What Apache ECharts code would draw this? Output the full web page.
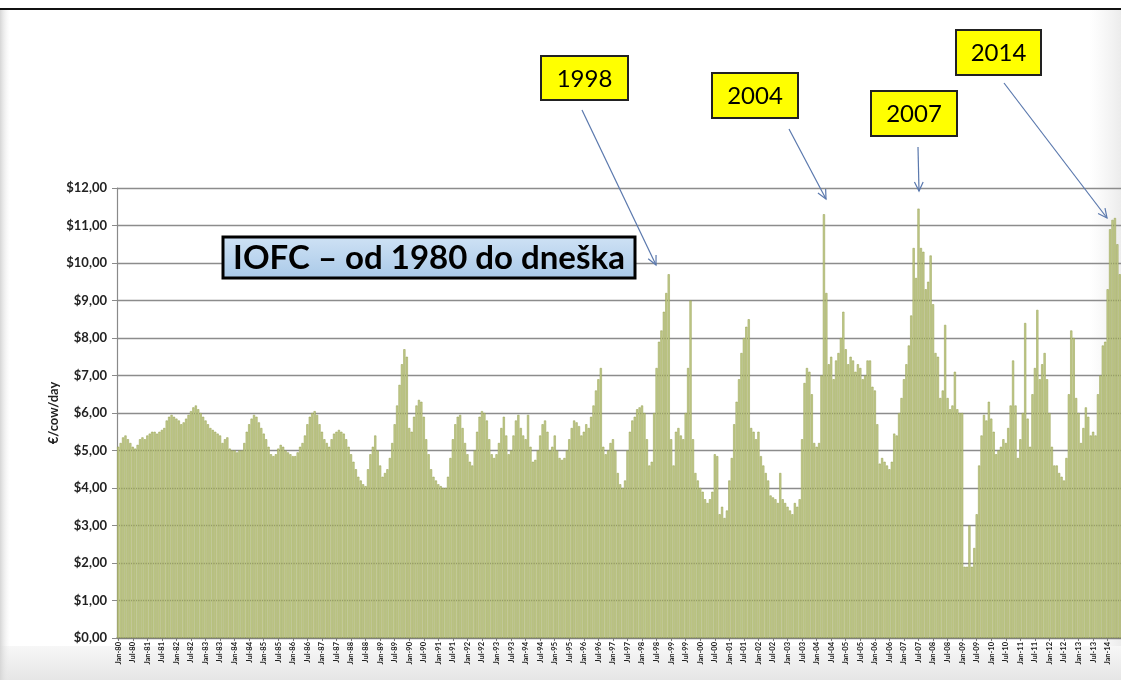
<!DOCTYPE html>
<html><head><meta charset="utf-8">
<script src="https://cdn.jsdelivr.net/npm/echarts@6/dist/echarts.min.js"></script>
<style>html,body{margin:0;padding:0;background:#fff}#c{width:1121px;height:680px}</style>
</head><body><div id="c"></div>
<script>
// monthly IOFC values (€/cow/day), Jan-80 .. Jun-14
const v1980s = [
 5.1,5.2,5.35,5.4,5.3,5.2,5.1,5.05,5.15,5.3,5.35,5.3,
 5.4,5.45,5.5,5.5,5.45,5.5,5.55,5.6,5.8,5.9,5.95,5.9,
 5.85,5.8,5.7,5.75,5.85,5.95,6.05,6.15,6.2,6.1,6.0,5.9,
 5.8,5.7,5.6,5.55,5.5,5.45,5.4,5.2,5.3,5.35,5.05,5.0,
 5.0,4.95,5.0,5.0,5.2,5.5,5.7,5.85,5.95,5.9,5.75,5.6,
 5.45,5.3,5.1,4.9,4.85,4.9,5.05,5.15,5.1,5.0,4.95,4.9,
 4.85,4.85,4.95,5.1,5.2,5.4,5.7,5.9,6.0,6.05,5.95,5.7,
 5.5,5.3,5.2,5.1,5.3,5.45,5.5,5.55,5.5,5.45,5.3,5.1,
 4.9,4.7,4.5,4.3,4.2,4.1,4.05,4.5,4.9,5.1,5.4,5.0,
 4.6,4.3,4.4,4.5,4.8,5.2,5.7,6.2,6.75,7.3,7.7,7.5
];
const v1990s = [
 5.6,5.5,5.9,6.2,6.35,6.3,5.9,5.3,4.9,4.5,4.3,4.2,
 4.1,4.05,4.0,4.0,4.3,4.8,5.3,5.7,5.9,5.95,5.6,5.2,
 4.9,4.7,4.6,5.0,5.5,5.9,6.05,6.0,5.8,5.3,4.9,4.8,
 4.9,5.2,5.6,5.9,5.4,4.9,5.0,5.4,5.8,5.95,5.6,5.4,
 5.3,5.95,5.1,4.7,4.75,5.0,5.4,5.7,5.8,5.5,5.0,5.1,
 5.4,5.0,4.8,4.75,4.8,5.0,5.3,5.6,5.8,5.75,5.65,5.4,
 5.5,5.7,5.6,5.9,6.2,6.6,6.9,7.2,5.1,4.9,5.0,5.2,
 5.3,5.0,4.4,4.1,4.0,4.2,5.0,5.5,5.8,5.9,6.1,6.15,
 6.2,6.0,5.3,4.6,4.7,6.0,7.2,7.9,8.2,8.7,9.2,9.7,
 5.3,4.6,5.5,5.6,5.4,5.3,6.0,7.2,9.0,5.3,4.4,4.2
];
const v2000s = [
 4.0,3.9,3.7,3.6,3.7,3.9,4.9,4.85,3.3,3.5,3.2,3.4,
 4.2,4.8,5.7,6.3,6.9,7.6,8.0,8.3,8.5,5.6,5.5,5.3,
 5.5,4.85,4.6,4.4,4.2,3.8,3.75,3.7,3.6,4.4,3.7,3.6,
 3.5,3.4,3.3,3.6,3.5,3.7,5.3,6.8,7.2,7.1,6.5,5.2,
 5.1,5.2,7.0,11.3,9.2,7.3,7.5,6.9,7.4,7.6,8.0,8.7,
 7.7,7.3,7.5,7.4,7.1,7.3,7.2,6.9,7.0,7.4,7.4,6.7,
 6.6,5.7,4.65,4.8,4.7,4.6,4.5,4.7,5.45,5.4,6.0,6.4,
 6.9,7.3,7.8,8.6,10.4,9.6,11.45,10.4,10.3,9.3,9.5,10.2,
 8.9,7.6,7.5,6.4,6.6,8.35,6.4,6.1,6.2,7.1,6.1,6.0,
 6.0,1.9,1.9,3.0,1.9,2.4,3.3,4.6,5.4,5.95,5.8,6.3
];
const v2010s = [
 5.85,5.5,4.9,5.0,5.1,5.3,5.2,5.6,6.2,7.4,6.2,4.8,
 5.3,6.0,8.4,5.85,5.1,6.5,7.2,8.75,6.9,7.3,7.6,6.9,
 6.0,5.1,4.6,4.6,4.4,4.3,4.2,4.8,6.5,8.2,8.0,6.4,
 6.0,5.2,5.6,6.15,5.9,5.4,5.5,5.4,6.5,7.0,7.8,7.9,
 9.3,10.9,11.15,11.2,10.5,9.7
];
const monthNames = ['Jan','Feb','Mar','Apr','May','Jun','Jul','Aug','Sep','Oct','Nov','Dec'];
const firstYear = 1980;
const values = [].concat(v1980s, v1990s, v2000s, v2010s);
const categories = values.map((_, i) =>
  monthNames[i % 12] + '-' + String((firstYear + Math.floor(i / 12)) % 100).padStart(2, '0'));

const titleText = 'IOFC – od 1980 do dneška';
const yAxisTitle = '€/cow/day';
const callouts = [
  {label:'1998', box:[541,56,87,44], from:[582,110], to:[656,265]},
  {label:'2004', box:[712,73,86,45], from:[789,129], to:[826,199]},
  {label:'2007', box:[871,91,86,45], from:[918,147], to:[919,191]},
  {label:'2014', box:[956,30,85,45], from:[1004,83], to:[1107,218]}
];

const FONT = 'Lato, "Open Sans", sans-serif';
const graphics = [
  {type:'rect', z:-100, shape:{x:0,y:0,width:1121,height:680}, style:{fill:'#ffffff'}},
  {type:'rect', z:-99, shape:{x:0,y:646,width:1121,height:34},
   style:{fill:new echarts.graphic.LinearGradient(0,0,0,1,[{offset:0,color:'#f7f7f7'},{offset:1,color:'#e6e6e6'}])}},
  {type:'rect', z:-99, shape:{x:1090,y:10,width:31,height:636},
   style:{fill:new echarts.graphic.LinearGradient(0,0,1,0,[{offset:0,color:'rgba(240,240,240,0)'},{offset:1,color:'#ececec'}])}},
  {type:'rect', z:-99, shape:{x:0,y:10,width:10,height:670},
   style:{fill:new echarts.graphic.LinearGradient(0,0,1,0,[{offset:0,color:'#d6d6d6'},{offset:1,color:'rgba(240,240,240,0)'}])}},
  {type:'rect', z:50, shape:{x:0,y:0,width:1121,height:8}, style:{fill:'#ffffff'}},
  {type:'rect', z:50, shape:{x:0,y:8,width:1121,height:2}, style:{fill:'#111'}},
  {type:'rect', z:60, shape:{x:223,y:237,width:412,height:41},
   style:{fill:new echarts.graphic.LinearGradient(0,0,0,1,[{offset:0,color:'#cfe2f5'},{offset:1,color:'#a9c9e8'}]),
          stroke:'#000', lineWidth:3}},
  {type:'text', z:61, x:429, y:258,
   style:{text:titleText, font:'bold 33px ' + FONT, fill:'#000', align:'center', verticalAlign:'middle'}}
];
callouts.forEach(c => {
  const [x,y,w,h] = c.box;
  graphics.push({type:'rect', z:60, shape:{x,y,width:w,height:h}, style:{fill:'#ffff00', stroke:'#222', lineWidth:2}});
  graphics.push({type:'text', z:61, x:x+w/2, y:y+h/2+1,
    style:{text:c.label, font:'24px ' + FONT, fill:'#000', align:'center', verticalAlign:'middle'}});
  const [x1,y1] = c.from, [x2,y2] = c.to;
  graphics.push({type:'line', z:60, shape:{x1,y1,x2,y2}, style:{stroke:'#5a78ad', lineWidth:1.2}});
  const ang = Math.atan2(y2-y1, x2-x1), L = 10, a = 0.45;
  graphics.push({type:'polyline', z:60, shape:{points:[
    [x2 - L*Math.cos(ang-a), y2 - L*Math.sin(ang-a)], [x2,y2],
    [x2 - L*Math.cos(ang+a), y2 - L*Math.sin(ang+a)]]},
    style:{stroke:'#5a78ad', lineWidth:1.2, fill:null}});
});

const chart = echarts.init(document.getElementById('c'), null, {renderer:'canvas'});
chart.setOption({
  animation:false,
  backgroundColor:'transparent',
  grid:{left:117, right:0, top:188, bottom:42, containLabel:false},
  xAxis:{
    type:'category', data:categories, boundaryGap:true,
    axisLine:{lineStyle:{color:'#7a7a7a', width:1.5}},
    axisTick:{show:true, interval:5, length:3, alignWithLabel:true, lineStyle:{color:'#7a7a7a'}},
    axisLabel:{interval:5, rotate:90, fontSize:7.5, fontWeight:'bold', color:'#222', fontFamily:FONT, margin:4}
  },
  yAxis:{
    type:'value', min:0, max:12, interval:1,
    name:yAxisTitle, nameLocation:'middle', nameGap:57, nameMoveOverlap:false,
    nameTextStyle:{fontSize:13, fontWeight:'bold', color:'#222', fontFamily:FONT},
    axisLine:{show:true, lineStyle:{color:'#8a8a8a', width:1.2}},
    axisTick:{show:true, length:5, lineStyle:{color:'#8a8a8a'}},
    axisLabel:{fontSize:13, fontWeight:'bold', color:'#222', fontFamily:FONT, margin:10,
      formatter:v => '$' + v.toFixed(2).replace('.', ',')},
    splitLine:{show:true, lineStyle:{color:'#8c8c8c', width:1.3}}
  },
  series:[{
    type:'bar', data:values, barCategoryGap:'12%',
    itemStyle:{color:'#c3cc8e', borderColor:'#929d4a', borderWidth:0.5},
    z:2
  }],
  graphic:{elements:graphics}
});
</script>
</body></html>
